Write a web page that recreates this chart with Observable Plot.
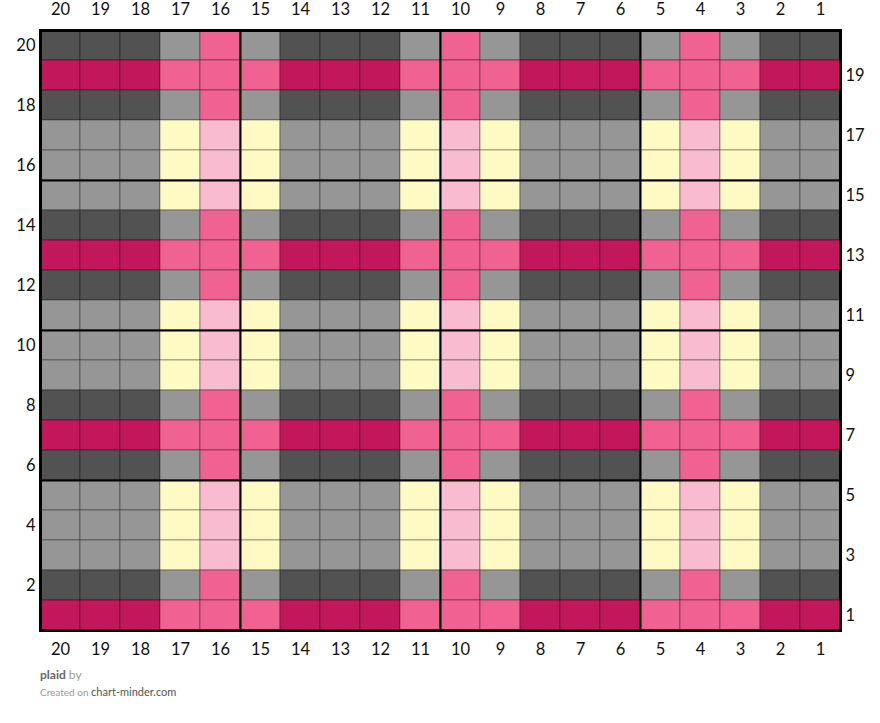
<!DOCTYPE html>
<html>
<head>
<meta charset="utf-8">
<script src="https://cdn.jsdelivr.net/npm/d3@7"></script>
<script src="https://cdn.jsdelivr.net/npm/@observablehq/plot@0.6"></script>
<style>
  body { margin: 0; background: #fff; font-family: Lato, "Open Sans", sans-serif; }
  #chart svg { display: block; }
  #chart svg text { font-size: 16.5px !important; font-family: Lato, sans-serif; fill: #111; }
  .foot1 { position: absolute; left: 40px; top: 667px; font-size: 12px; color: #777; }
  .foot1 b { color: #666; font-weight: 700; }
  .foot1 span { color: #999; }
  .foot2 { position: absolute; left: 40px; top: 685px; font-size: 10px; color: #999; }
  .foot2 span { color: #555; font-size: 11px; }
</style>
</head>
<body>
<div id="chart"></div>
<div class="foot1"><b>plaid</b> <span>by</span></div>
<div class="foot2">Created on <span>chart-minder.com</span></div>
<script>
// Column numbers, left to right
const columns = [20,19,18,17,16,15,14,13,12,11,10,9,8,7,6,5,4,3,2,1];
// Column stripe type for each column (A = base, B = light stripe, C = pink stripe)
const columnTypes = ["A","A","A","B","C","B","A","A","A","B","C","B","A","A","A","B","C","B","A","A"];
// Row numbers, top to bottom
const rows = [20,19,18,17,16,15,14,13,12,11,10,9,8,7,6,5,4,3,2,1];
// Row stripe type for each row (D = dark, R = crimson, L = light)
const rowTypes = ["D","R","D","L","L","L","D","R","D","L","L","L","D","R","D","L","L","L","D","R"];
// Colour of a cell given row type + column type
const cellColors = {
  DA: "#525252", DB: "#969696", DC: "#f06292",
  RA: "#c2185b", RB: "#f06292", RC: "#f06292",
  LA: "#969696", LB: "#fff9c4", LC: "#f8bbd0"
};
const blockSize = 5;
const evenRows = [20,18,16,14,12,10,8,6,4,2];
const oddRows = [19,17,15,13,11,9,7,5,3,1];

const cells = [];
rows.forEach((r, ri) => {
  columns.forEach((c, ci) => {
    cells.push({row: r, col: c, fill: cellColors[rowTypes[ri] + columnTypes[ci]]});
  });
});
const n = columns.length;
const bounds = d3.range(0, n + 1, blockSize).map(v => v + 0.5);

const chart = Plot.plot({
  width: 880,
  height: 660,
  marginLeft: 40,
  marginRight: 40,
  marginTop: 30,
  marginBottom: 30,
  style: {fontFamily: "Lato, sans-serif", fontSize: "16px", color: "#111"},
  x: {type: "linear", domain: [n + 0.5, 0.5], axis: null},
  y: {type: "linear", domain: [0.5, n + 0.5], axis: null},
  color: {type: "identity"},
  marks: [
    Plot.rect(cells, {
      x1: d => d.col + 0.5, x2: d => d.col - 0.5,
      y1: d => d.row - 0.5, y2: d => d.row + 0.5,
      fill: "fill", stroke: "#000", strokeOpacity: 0.35, strokeWidth: 1
    }),
    Plot.ruleX(bounds, {stroke: "#000", strokeWidth: 2}),
    Plot.ruleY(bounds, {stroke: "#000", strokeWidth: 2}),
    Plot.frame({stroke: "#000", strokeWidth: 3}),
    Plot.axisX(columns, {anchor: "top", tickSize: 0, tickPadding: 16}),
    Plot.axisX(columns, {anchor: "bottom", tickSize: 0, tickPadding: 13}),
    Plot.axisY(evenRows, {anchor: "left", tickSize: 0, tickPadding: 5}),
    Plot.axisY(oddRows, {anchor: "right", tickSize: 0, tickPadding: 5})
  ]
});
document.getElementById("chart").appendChild(chart);
</script>
</body>
</html>
